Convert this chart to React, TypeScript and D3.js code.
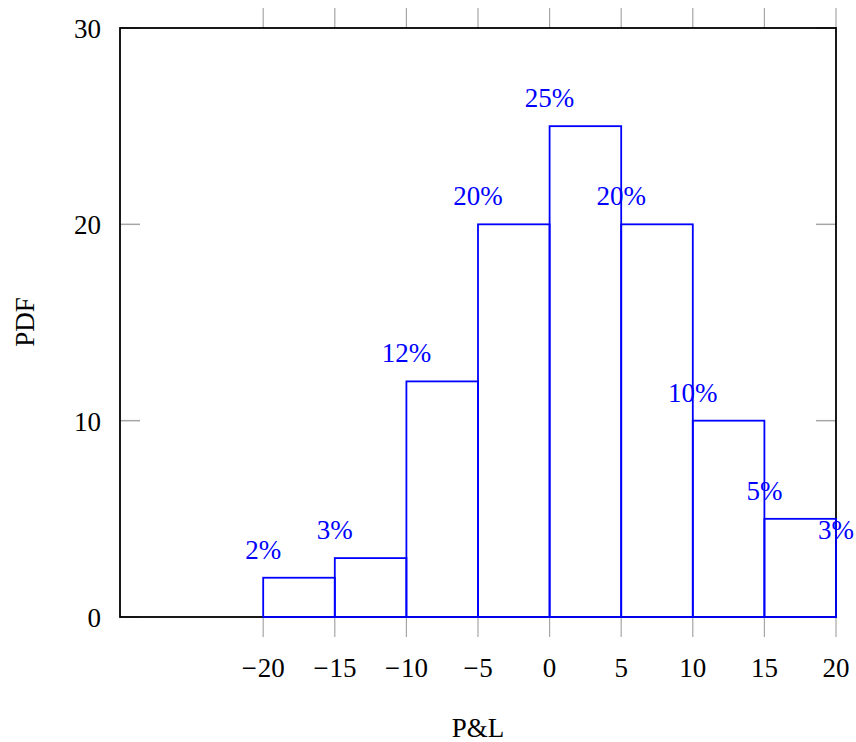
import React from "react";
import * as d3 from "d3";

const binStarts = [-20, -15, -10, -5, 0, 5, 10, 15, 20];
const pdfValues = [2, 3, 12, 20, 25, 20, 10, 5, 3];
const pctLabels = ["2%", "3%", "12%", "20%", "25%", "20%", "10%", "5%", "3%"];
const xTicks = [-20, -15, -10, -5, 0, 5, 10, 15, 20];
const yTicks = [0, 10, 20, 30];

const W = 856;
const H = 742;
const left = 120;
const right = 836;
const top = 28;
const bottom = 617;
const FONT = "'Liberation Serif', 'Times New Roman', serif";
const BLUE = "#0000ff";
const TICK = "#a6a6a6";

export default function App() {
  const x = d3.scaleLinear().domain([-30, 20]).range([left, right]);
  const y = d3.scaleLinear().domain([0, 30]).range([bottom, top]);
  const bars = binStarts.slice(0, -1).map((s, i) => ({
    x0: s,
    x1: binStarts[i + 1],
    v: pdfValues[i],
  }));
  return (
    <svg
      width={W}
      height={H}
      style={{ position: "absolute", left: 0, top: 0 }}
      fontFamily={FONT}
    >
      <rect width={W} height={H} fill="#fff" />
      {xTicks.map((t) => (
        <g key={"xt" + t}>
          <line x1={x(t)} x2={x(t)} y1={bottom} y2={bottom + 20} stroke={TICK} strokeWidth={1.2} />
          <line x1={x(t)} x2={x(t)} y1={top} y2={top - 20} stroke={TICK} strokeWidth={1.2} />
          <text x={x(t)} y={677} fontSize={27} textAnchor="middle" fill="#000">
            {t < 0 ? (
              <>
                <tspan dx={0}>{"\u2212"}</tspan>
                <tspan dx={1}>{Math.abs(t)}</tspan>
              </>
            ) : (
              String(t)
            )}
          </text>
        </g>
      ))}
      {yTicks.map((t) => (
        <g key={"yt" + t}>
          <line x1={left} x2={left + 20} y1={y(t)} y2={y(t)} stroke={TICK} strokeWidth={1.5} />
          <line x1={right} x2={right - 20} y1={y(t)} y2={y(t)} stroke={TICK} strokeWidth={1.5} />
          <text x={101} y={y(t) + 10} fontSize={27} textAnchor="end" fill="#000">
            {t}
          </text>
        </g>
      ))}
      <rect
        x={left}
        y={top}
        width={right - left}
        height={bottom - top}
        fill="none"
        stroke="#000"
        strokeWidth={1.8}
      />
      {bars.map((b, i) => (
        <rect
          key={"b" + i}
          x={x(b.x0)}
          y={y(b.v)}
          width={x(b.x1) - x(b.x0)}
          height={y(0) - y(b.v)}
          fill="none"
          stroke={BLUE}
          strokeWidth={1.8}
        />
      ))}
      {binStarts.map((s, i) => (
        <text
          key={"l" + i}
          x={x(s)}
          y={y(pdfValues[i]) - 19}
          fontSize={27}
          textAnchor="middle"
          fill={BLUE}
        >
          {pctLabels[i]}
        </text>
      ))}
      <text x={478} y={737} fontSize={27} textAnchor="middle" fill="#000">
        P&amp;L
      </text>
      <text
        transform={`translate(34, 322) rotate(-90)`}
        fontSize={27}
        textAnchor="middle"
        fill="#000"
      >
        PDF
      </text>
    </svg>
  );
}
